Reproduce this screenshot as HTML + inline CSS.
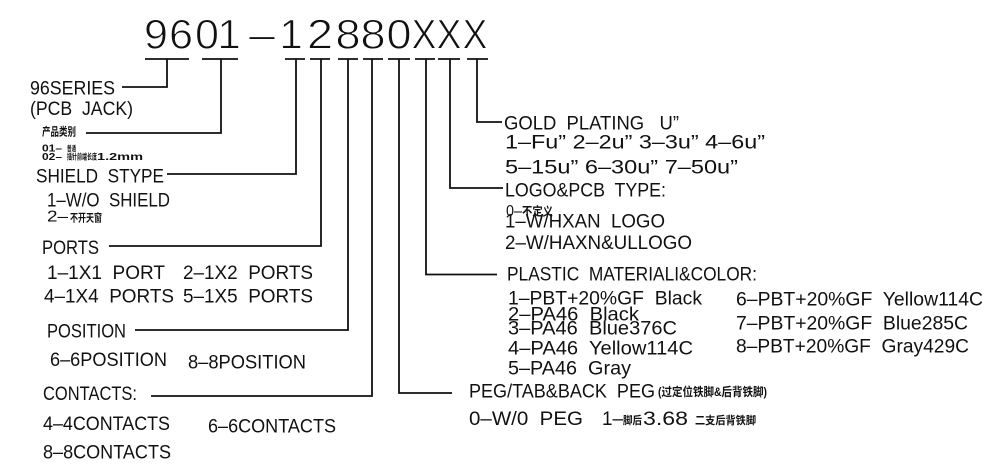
<!DOCTYPE html>
<html>
<head>
<meta charset="utf-8">
<style>
html,body{margin:0;padding:0;background:#fff;}
svg{display:block;}
text{font-family:"Liberation Sans","Noto Sans CJK SC",sans-serif;fill:#111;white-space:pre;}
.c{font-family:"Liberation Sans","Noto Sans CJK SC",sans-serif;font-weight:bold;}
</style>
</head>
<body>
<svg width="1000" height="476" viewBox="0 0 1000 476" xmlns="http://www.w3.org/2000/svg" xml:space="preserve">
<rect width="1000" height="476" fill="#fff"/>

<!-- Title -->
<g font-size="42" text-anchor="middle" stroke="#fff" stroke-width="0.9">
<text x="156" y="48.5" textLength="24" lengthAdjust="spacingAndGlyphs">9</text>
<text x="181" y="48.5" textLength="24" lengthAdjust="spacingAndGlyphs">6</text>
<text x="207" y="48.5" textLength="24" lengthAdjust="spacingAndGlyphs">0</text>
<text x="229" y="48.5">1</text>
<text x="262" y="48.5" textLength="26" lengthAdjust="spacingAndGlyphs">–</text>
<text x="291" y="48.5">1</text>
<text x="320" y="48.5" textLength="26" lengthAdjust="spacingAndGlyphs">2</text>
<text x="348" y="48.5" textLength="25" lengthAdjust="spacingAndGlyphs">8</text>
<text x="373" y="48.5" textLength="25" lengthAdjust="spacingAndGlyphs">8</text>
<text x="399" y="48.5" textLength="25" lengthAdjust="spacingAndGlyphs">0</text>
<text x="424" y="48.5" textLength="25" lengthAdjust="spacingAndGlyphs">X</text>
<text x="449" y="48.5" textLength="25" lengthAdjust="spacingAndGlyphs">X</text>
<text x="475" y="48.5" textLength="25" lengthAdjust="spacingAndGlyphs">X</text>
</g>

<!-- Lines -->
<g stroke="#111" stroke-width="1.8" fill="none">
<line x1="145" y1="59" x2="189" y2="59"/>
<line x1="202" y1="59" x2="238" y2="59"/>
<line x1="285" y1="59" x2="305" y2="59"/>
<line x1="310" y1="59" x2="330" y2="59"/>
<line x1="338" y1="59" x2="358" y2="59"/>
<line x1="363" y1="59" x2="383" y2="59"/>
<line x1="388" y1="59" x2="410" y2="59"/>
<line x1="415" y1="59" x2="435" y2="59"/>
<line x1="438" y1="59" x2="460" y2="59"/>
<line x1="467" y1="59" x2="488" y2="59"/>
<polyline points="167,59 167,87 122,87"/>
<polyline points="221,59 221,133 86,133"/>
<polyline points="296,59 296,174 167,174"/>
<polyline points="321,59 321,246 109,246"/>
<polyline points="348,59 348,330 135,330"/>
<polyline points="372,59 372,396 151,396"/>
<polyline points="399,59 399,393 452,393"/>
<polyline points="426,59 426,274.5 497,274.5"/>
<polyline points="450,59 450,188 503,188"/>
<polyline points="477,59 477,122 502,122"/>
</g>

<!-- Left texts -->
<g font-size="19">
<text x="30" y="94.5" textLength="85" lengthAdjust="spacingAndGlyphs">96SERIES</text>
<text x="30" y="115" textLength="103" lengthAdjust="spacingAndGlyphs">(PCB  JACK)</text>
<text x="36" y="182.3" textLength="128" lengthAdjust="spacingAndGlyphs">SHIELD  STYPE</text>
<text x="47" y="206.7" textLength="123" lengthAdjust="spacingAndGlyphs">1–W/O  SHIELD</text>
<text x="47" y="221.7" font-size="16" textLength="21" lengthAdjust="spacingAndGlyphs">2–</text>
<text x="42" y="254" textLength="57" lengthAdjust="spacingAndGlyphs">PORTS</text>
<text x="47" y="279" textLength="118" lengthAdjust="spacingAndGlyphs">1–1X1  PORT</text>
<text x="183" y="279" textLength="130" lengthAdjust="spacingAndGlyphs">2–1X2  PORTS</text>
<text x="44" y="302.7" textLength="130" lengthAdjust="spacingAndGlyphs">4–1X4  PORTS</text>
<text x="183" y="302.7" textLength="130" lengthAdjust="spacingAndGlyphs">5–1X5  PORTS</text>
<text x="47" y="337.3" textLength="79" lengthAdjust="spacingAndGlyphs">POSITION</text>
<text x="50" y="366" textLength="117" lengthAdjust="spacingAndGlyphs">6–6POSITION</text>
<text x="188" y="368.3" textLength="118" lengthAdjust="spacingAndGlyphs">8–8POSITION</text>
<text x="43" y="400" textLength="94" lengthAdjust="spacingAndGlyphs">CONTACTS:</text>
<text x="43" y="430" textLength="127" lengthAdjust="spacingAndGlyphs">4–4CONTACTS</text>
<text x="208" y="432.3" textLength="128" lengthAdjust="spacingAndGlyphs">6–6CONTACTS</text>
<text x="43" y="458.3" textLength="128" lengthAdjust="spacingAndGlyphs">8–8CONTACTS</text>
</g>

<!-- Small CJK / bold labels -->
<text class="c" x="42" y="135.5" font-size="11.5" textLength="34" lengthAdjust="spacingAndGlyphs">产品类别</text>
<text class="c" x="42" y="151.3" font-size="10" textLength="20" lengthAdjust="spacingAndGlyphs">01–</text>
<text class="c" x="67" y="150.8" font-size="7.5" textLength="9" lengthAdjust="spacingAndGlyphs">普通</text>
<text class="c" x="42" y="159.9" font-size="10" textLength="20" lengthAdjust="spacingAndGlyphs">02–</text>
<text class="c" x="67" y="159.4" font-size="8" textLength="30" lengthAdjust="spacingAndGlyphs">插针前端长度</text>
<text class="c" x="97" y="159.9" font-size="10" textLength="46" lengthAdjust="spacingAndGlyphs">1.2mm</text>
<text class="c" x="70" y="221.5" font-size="11" textLength="32" lengthAdjust="spacingAndGlyphs">不开天窗</text>

<!-- Right texts -->
<g font-size="19">
<text x="504" y="129.3" textLength="175" lengthAdjust="spacingAndGlyphs">GOLD  PLATING   U”</text>
<text x="505" y="148.3" textLength="260" lengthAdjust="spacingAndGlyphs">1–Fu” 2–2u” 3–3u” 4–6u”</text>
<text x="505" y="173.3" textLength="233" lengthAdjust="spacingAndGlyphs">5–15u” 6–30u” 7–50u”</text>
<text x="505" y="196.7" textLength="161" lengthAdjust="spacingAndGlyphs">LOGO&amp;PCB  TYPE:</text>
<text x="506" y="216" font-size="15.5" textLength="16" lengthAdjust="spacingAndGlyphs">0–</text>
<text x="505" y="227.7" textLength="160" lengthAdjust="spacingAndGlyphs">1–W/HXAN  LOGO</text>
<text x="505" y="249" textLength="187" lengthAdjust="spacingAndGlyphs">2–W/HAXN&amp;ULLOGO</text>
<text x="507" y="280.3" textLength="250" lengthAdjust="spacingAndGlyphs">PLASTIC  MATERIALI&amp;COLOR:</text>
<text x="508" y="304.3" textLength="194" lengthAdjust="spacingAndGlyphs">1–PBT+20%GF  Black</text>
<text x="508" y="320.3" textLength="131" lengthAdjust="spacingAndGlyphs">2–PA46  Black</text>
<text x="508" y="334.3" textLength="169" lengthAdjust="spacingAndGlyphs">3–PA46  Blue376C</text>
<text x="508" y="354.3" textLength="185" lengthAdjust="spacingAndGlyphs">4–PA46  Yellow114C</text>
<text x="508" y="374.3" textLength="123" lengthAdjust="spacingAndGlyphs">5–PA46  Gray</text>
<text x="736" y="305.3" textLength="247" lengthAdjust="spacingAndGlyphs">6–PBT+20%GF  Yellow114C</text>
<text x="736" y="329.3" textLength="232" lengthAdjust="spacingAndGlyphs">7–PBT+20%GF  Blue285C</text>
<text x="736" y="352.7" textLength="233" lengthAdjust="spacingAndGlyphs">8–PBT+20%GF  Gray429C</text>
<text x="469" y="397.3" textLength="186" lengthAdjust="spacingAndGlyphs">PEG/TAB&amp;BACK  PEG</text>
<text x="469" y="425" textLength="114" lengthAdjust="spacingAndGlyphs">0–W/0  PEG</text>
<text x="602" y="425" textLength="21" lengthAdjust="spacingAndGlyphs">1–</text>
<text x="643" y="425" textLength="45" lengthAdjust="spacingAndGlyphs">3.68</text>
</g>
<text class="c" x="522" y="215.5" font-size="12" textLength="31" lengthAdjust="spacingAndGlyphs">不定义</text>
<text class="c" x="658" y="396" font-size="12" textLength="109" lengthAdjust="spacingAndGlyphs">(过定位铁脚&amp;后背铁脚)</text>
<text class="c" x="623" y="424" font-size="11" textLength="19" lengthAdjust="spacingAndGlyphs">脚后</text>
<text class="c" x="695" y="424" font-size="11" textLength="61" lengthAdjust="spacingAndGlyphs">二支后背铁脚</text>
</svg>
</body>
</html>
